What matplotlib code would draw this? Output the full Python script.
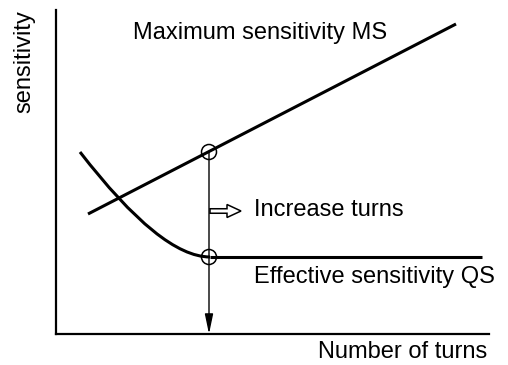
import matplotlib
matplotlib.use("Agg")
import matplotlib.pyplot as plt
from matplotlib.path import Path
from matplotlib.patches import PathPatch, Circle, FancyArrow

plt.rcParams['font.family'] = ['Liberation Sans', 'DejaVu Sans']

# schematic values (axis units, origin at the axes corner)
ms_x = [32, 400]          # maximum sensitivity line
ms_y = [120, 310]
qs_curve_x = [24, 105, 154]   # start, control, end of the falling part
qs_curve_y = [182, 77, 77]
qs_flat_x = [154, 426]
qs_flat_y = [77, 77]
n_opt = 153               # chosen number of turns
ms_at_opt = 182
qs_at_opt = 77

fig = plt.figure(figsize=(5.08, 3.65), dpi=100)
ax = fig.add_axes([56 / 508, 31 / 365, 433 / 508, 324 / 365])
ax.set_xlim(0, 433)
ax.set_ylim(0, 324)
for s in ['top', 'right']:
    ax.spines[s].set_visible(False)
for s in ['left', 'bottom']:
    ax.spines[s].set_linewidth(1.6)
ax.set_xticks([])
ax.set_yticks([])

# MS line
ax.plot(ms_x, ms_y, color='black', lw=2.2, solid_capstyle='butt')

# QS curve
verts = list(zip(qs_curve_x, qs_curve_y))
path = Path(verts, [Path.MOVETO, Path.CURVE3, Path.CURVE3])
ax.add_patch(PathPatch(path, facecolor='none', edgecolor='black', lw=2.2))
ax.plot(qs_flat_x, qs_flat_y, color='black', lw=2.2, solid_capstyle='butt')

# vertical line down to the axis with arrow
ax.annotate('', xy=(n_opt, 0), xytext=(n_opt, ms_at_opt),
            arrowprops=dict(arrowstyle='-|>,head_length=1.2,head_width=0.25',
                            color='black', lw=1.0, shrinkA=0, shrinkB=0))

# circles at the crossing points
for cy in [ms_at_opt, qs_at_opt]:
    ax.add_patch(Circle((n_opt, cy), 7.5, fill=False, edgecolor='black', lw=1.1))

# hollow arrow "increase turns"
ax.add_patch(FancyArrow(n_opt + 1, 123, 31, 0, width=4.5, head_width=13,
                        head_length=14, length_includes_head=True,
                        facecolor='white', edgecolor='black', lw=1.1))

fs = 17
ax.text(77, 301, 'Maximum sensitivity MS', fontsize=fs, va='center', ha='left')
ax.text(198, 124, 'Increase turns', fontsize=fs, va='center', ha='left')
ax.text(198, 57, 'Effective sensitivity QS', fontsize=fs, va='center', ha='left')
ax.text(431, -18, 'Number of turns', fontsize=fs, va='center', ha='right',
        clip_on=False)
ax.text(-32, 272, 'sensitivity', fontsize=fs, va='center', ha='center',
        rotation=90, clip_on=False)

fig.savefig('out.png', dpi=100)
